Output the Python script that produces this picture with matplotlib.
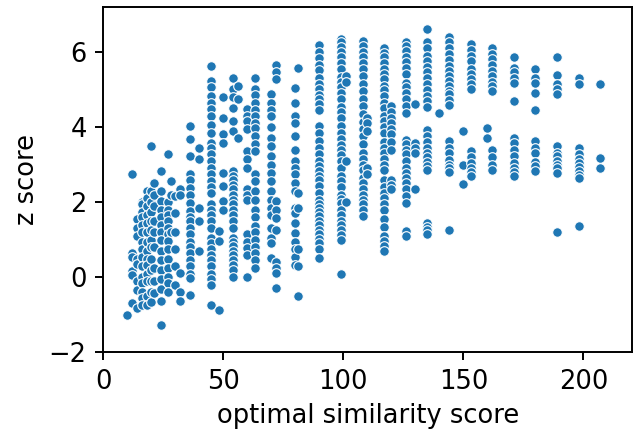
import matplotlib.pyplot as plt

# x positions of the score columns
column_x = [10, 12, 14, 16, 18, 20, 21, 24, 27, 28, 30, 32, 36, 40, 45, 48, 50,
            54, 56, 60, 63, 70, 72, 80, 81, 90, 99, 101, 108, 110, 117, 120,
            126, 130, 135, 140, 144, 150, 153, 160, 162, 171, 180, 189, 198, 207]

# z scores (same order as column_x)
column_z = [
    [-1.0],
    [2.74, 0.65, 0.55, 0.16, 0.05, -0.69],
    [1.55, 1.31, 1.1, 0.5, 0.35, -0.1, -0.35, -0.82],
    [2.0, 1.94, 1.75, 1.6, 1.4, 1.2, 0.95, 0.75, 0.55, 0.3, 0.02, -0.15, -0.38, -0.55, -0.73],
    [2.29, 2.1, 1.9, 1.67, 1.45, 1.2, 0.95, 0.69, 0.5, 0.34, 0.1, -0.1, -0.5, -0.73],
    [3.49, 2.3, 2.0, 1.75, 1.5, 1.25, 1.0, 0.8, 0.5, 0.2, -0.1, -0.4, -0.65],
    [2.51, 2.2, 1.9, 1.5, 1.2, 0.8, 0.25, -0.1, -0.42],
    [2.83, 2.29, 2.02, 1.8, 1.6, 1.4, 1.2, 1.0, 0.7, 0.45, 0.2, -0.05, -0.3, -0.64, -1.26],
    [3.27, 2.0, 1.8, 1.67, 1.5, 1.3, 1.15, 0.96, 0.75, 0.5, 0.25, 0.0, -0.15, -0.4],
    [2.56, 2.2, 1.2],
    [2.16, 1.7, 1.2, 0.74, 0.3, -0.2],
    [2.34, 2.2, 0.11, -0.38, -0.64],
    [4.02, 3.67, 3.22, 2.76, 2.6, 2.38, 2.2, 1.98, 1.76, 1.6, 1.49, 1.3, 1.14, 0.95, 0.8,
     0.65, 0.45, 0.29, 0.1, -0.02, -0.46],
    [3.45, 3.14, 1.85, 1.49, 0.69],
    [5.62, 5.21, 5.05, 4.83, 4.65, 4.47, 4.3, 4.05, 3.85, 3.58, 3.45, 3.27, 3.1, 2.91, 2.75,
     2.56, 2.4, 2.25, 1.94, 1.8, 1.65, 1.49, 1.3, 1.05, 0.9, 0.75, 0.6, 0.45, 0.29, 0.1,
     -0.05, -0.2, -0.73],
    [1.22, 0.96, -0.86],
    [4.8, 4.25, 3.82, 3.58, 2.78, 2.43, 2.02, 1.8],
    [5.31, 5.0, 4.8, 4.51, 4.16, 3.9, 2.83, 2.7, 2.6, 2.45, 2.34, 2.2, 2.07, 1.95, 1.8,
     1.65, 1.49, 1.3, 1.05, 0.95, 0.82, 0.7, 0.6, 0.45, 0.34, 0.2, 0.02],
    [5.09, 4.74, 3.71],
    [4.47, 4.3, 4.16, 3.95, 3.36, 3.14, 2.9, 2.34, 2.2, 2.07, 1.14, 0.95, 0.78, 0.6, 0.02],
    [5.29, 5.0, 4.85, 4.65, 4.45, 4.29, 4.1, 3.98, 3.75, 3.54, 3.35, 2.74, 2.55, 2.29, 2.05,
     1.8, 1.6, 1.36, 1.2, 1.0, 0.8, 0.65, 0.45, 0.25],
    [4.87, 4.65, 4.45, 4.29, 4.0, 3.71, 3.5, 3.22, 3.0, 2.78, 2.55, 2.29, 2.05, 1.85, 1.65,
     1.3, 1.05, 0.9, 0.51],
    [5.65, 5.45, 5.27, 2.02, 1.8, 1.58, 1.27, 0.42, 0.25, 0.11, -0.29],
    [5.03, 4.65, 4.29, 4.1, 3.76, 3.4, 3.09, 2.9, 2.75, 2.51, 2.3, 1.85, 1.7, 1.45, 1.18,
     0.95, 0.74, 0.55, 0.34],
    [5.58, 2.25, 1.85, 0.74, 0.29, -0.51],
    [6.18, 6.0, 5.83, 5.65, 5.51, 5.29, 5.15, 5.0, 4.86, 4.74, 4.6, 4.45, 4.03, 3.85, 3.63,
     3.45, 3.27, 3.1, 2.95, 2.83, 2.7, 2.58, 2.43, 2.25, 2.07, 1.95, 1.85, 1.73, 1.63, 1.5,
     1.38, 1.25, 1.14, 1.02, 0.91, 0.75, 0.51],
    [6.34, 6.25, 6.13, 6.0, 5.85, 5.7, 5.55, 5.34, 5.2, 5.05, 4.9, 4.75, 4.53, 4.4, 4.25,
     4.03, 3.85, 3.67, 3.52, 3.4, 3.25, 3.09, 2.9, 2.69, 2.55, 2.4, 2.2, 2.08, 1.98, 1.8,
     1.65, 1.49, 1.38, 1.27, 1.12, 0.98, 0.1],
    [5.36, 5.2, 3.09, 2.0],
    [6.29, 6.15, 6.0, 5.85, 5.7, 5.54, 5.35, 5.14, 4.95, 4.74, 4.55, 4.35, 4.12, 3.95, 3.75,
     3.55, 3.31, 3.15, 3.0, 2.85, 2.65, 2.5, 2.35, 2.2, 2.05, 1.94, 1.8, 1.63],
    [4.25, 4.1, 3.89, 2.91, 2.74],
    [6.11, 5.98, 5.85, 5.7, 5.54, 5.4, 5.27, 5.1, 4.97, 4.83, 4.65, 4.5, 4.3, 4.15, 4.0,
     3.85, 3.6, 3.45, 3.3, 3.15, 3.0, 2.85, 2.6, 2.4, 2.25, 2.11, 1.95, 1.8, 1.55, 1.35,
     1.1, 0.96, 0.82, 0.71],
    [4.56, 4.4, 4.25, 4.1, 3.95, 3.8, 3.6, 3.4, 2.6, 2.45, 2.34],
    [6.25, 6.15, 6.02, 5.85, 5.72, 5.58, 5.4, 5.18, 5.05, 4.91, 4.75, 4.55, 4.38, 3.65, 3.54,
     3.4, 3.27, 3.1, 2.91, 2.78, 2.65, 2.5, 2.34, 2.15, 1.98, 1.23, 1.1],
    [4.6, 3.58, 3.45, 3.31, 2.34],
    [6.6, 6.25, 6.1, 5.89, 5.75, 5.6, 5.45, 5.29, 5.15, 4.99, 4.83, 4.7, 4.54, 3.91, 3.75,
     3.6, 3.45, 3.32, 3.2, 3.08, 2.96, 2.85, 1.45, 1.35, 1.25, 1.15],
    [4.38],
    [6.4, 6.27, 6.1, 5.95, 5.78, 5.63, 5.5, 5.36, 5.22, 5.09, 4.95, 4.87, 4.72, 4.58, 3.62,
     3.45, 3.3, 3.11, 2.98, 2.91, 2.8, 1.25],
    [3.89, 3.0, 2.47],
    [6.22, 6.05, 5.89, 5.75, 5.55, 5.4, 5.27, 5.15, 5.02, 3.35, 3.2, 3.05, 2.9, 2.8, 2.69],
    [3.96, 3.71],
    [6.09, 5.95, 5.8, 5.65, 5.49, 5.35, 5.2, 5.08, 4.96, 3.4, 3.2, 3.0, 2.85],
    [5.87, 5.56, 5.45, 5.31, 5.18, 4.69, 3.7, 3.56, 3.4, 3.22, 3.05, 2.9, 2.8, 2.69],
    [5.55, 5.3, 5.18, 4.91, 4.45, 3.63, 3.45, 3.31, 3.07, 2.95, 2.84],
    [5.85, 5.38, 5.15, 5.02, 4.89, 3.49, 3.3, 3.23, 3.1, 3.0, 2.9, 2.78, 1.21],
    [5.3, 5.14, 3.43, 3.27, 3.15, 3.04, 2.93, 2.83, 2.73, 2.63, 1.36],
    [5.13, 3.17, 2.9],
]

x_ticks = [0, 50, 100, 150, 200]
y_ticks = [-2, 0, 2, 4, 6]

xs = []
zs = []
for x, col in zip(column_x, column_z):
    for z in col:
        xs.append(x)
        zs.append(z)

plt.rcParams["font.size"] = 18.5
plt.rcParams["axes.linewidth"] = 1.4

fig = plt.figure(figsize=(6.37, 4.45), dpi=100)
ax = fig.add_axes([0.1622, 0.2079, 0.8304, 0.7771])

ax.scatter(xs, zs, s=48, color="#1f77b4", edgecolor="white", linewidth=0.8)

ax.set_xlim(0, 220.4)
ax.set_ylim(-2, 7.2)
ax.set_xticks(x_ticks)
ax.set_yticks(y_ticks)
ax.tick_params(length=6, width=1.4, pad=6)
ax.set_xlabel("optimal similarity score", labelpad=6)
ax.set_ylabel("z score", labelpad=6)

fig.savefig("out.png", dpi=100)
